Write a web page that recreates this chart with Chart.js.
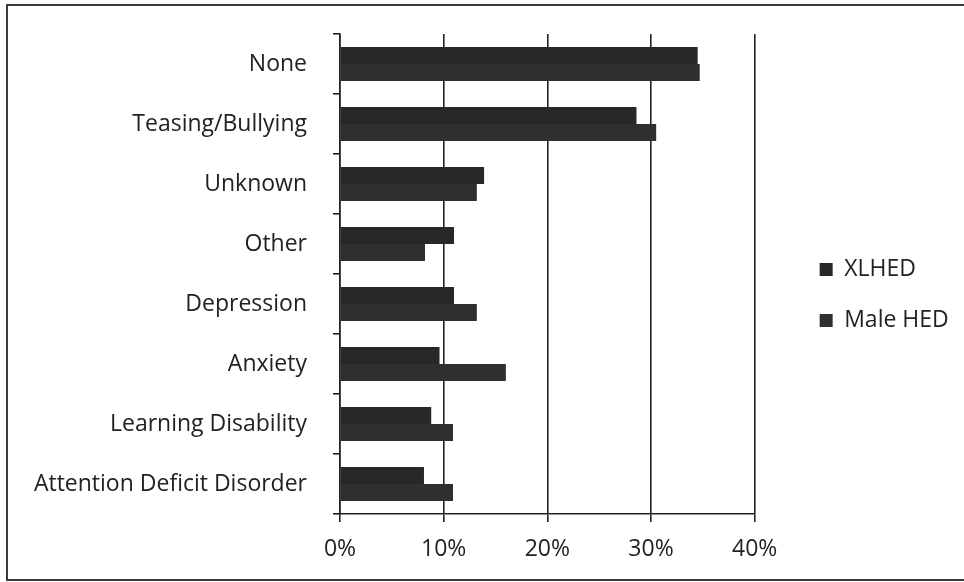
<!DOCTYPE html>
<html>
<head>
<meta charset="utf-8">
<script src="https://cdn.jsdelivr.net/npm/chart.js@4/dist/chart.umd.min.js"></script>
<style>
  html, body { margin: 0; padding: 0; background: #fff; overflow: hidden; }
  #wrap { position: relative; width: 964px; height: 582px; overflow: hidden; }
  #frame { position: absolute; left: 6px; top: 4px; width: 980px; height: 573px; border: 2px solid #3a3a3a; pointer-events: none; }
  canvas { position: absolute; left: 0; top: 0; }
</style>
</head>
<body>
<div id="wrap">
  <canvas id="chart" width="964" height="582"></canvas>
  <div id="frame"></div>
</div>
<script>
// Categorias e séries (percentual)
const categories = ['None', 'Teasing/Bullying', 'Unknown', 'Other', 'Depression', 'Anxiety', 'Learning Disability', 'Attention Deficit Disorder'];
const xlhedValues = [34.5, 28.6, 13.9, 11.0, 11.0, 9.6, 8.8, 8.1];
const maleHedValues = [34.7, 30.5, 13.2, 8.2, 13.2, 16.0, 10.9, 10.9];
const seriesNames = ['XLHED', 'Male HED'];
const xTicks = [0, 10, 20, 30, 40];

const fontFamily = '"Open Sans", sans-serif';
const ink = '#222222';

const ctx = document.getElementById('chart');

new Chart(ctx, {
    type: 'bar',
    data: {
        labels: categories,
        datasets: [{
            label: seriesNames[0],
            data: xlhedValues,
            backgroundColor: '#282828',
            borderWidth: 0
        }, {
            label: seriesNames[1],
            data: maleHedValues,
            backgroundColor: '#2f2f2f',
            borderWidth: 0
        }]
    },
    options: {
        indexAxis: 'y',
        responsive: false,
        animation: false,
        layout: {
            padding: { top: 8, left: 0, right: 14, bottom: 0 }
        },
        datasets: {
            bar: {
                categoryPercentage: 0.57,
                barPercentage: 1.0
            }
        },
        plugins: {
            tooltip: { enabled: false },
            legend: {
                position: 'right',
                align: 'center',
                labels: {
                    color: ink,
                    boxWidth: 13,
                    boxHeight: 13,
                    padding: 28,
                    font: { family: fontFamily, size: 23 }
                }
            }
        },
        scales: {
            x: {
                min: 0,
                max: 40,
                afterBuildTicks: (scale) => {
                    scale.ticks = xTicks.map(v => ({ value: v }));
                },
                afterFit: (scale) => { scale.height = 68; },
                grid: {
                    color: ink,
                    lineWidth: 1.6,
                    tickLength: 8,
                    drawTicks: true
                },
                border: { color: ink, width: 1.6 },
                ticks: {
                    color: ink,
                    padding: 14,
                    font: { family: fontFamily, size: 23 },
                    callback: (v) => v + '%'
                }
            },
            // margem acima da área do gráfico
            topGap: {
                type: 'linear',
                position: 'top',
                display: true,
                afterFit: (scale) => { scale.height = 26; },
                grid: { display: false },
                border: { display: false },
                ticks: { display: false }
            },
            y: {
                afterFit: (scale) => {
                    scale.width = 340;
                    // rótulos ficam no meio de cada faixa, sem folga extra
                    scale.paddingTop = 0;
                    scale.paddingBottom = 0;
                },
                grid: {
                    offset: true,
                    drawOnChartArea: false,
                    color: ink,
                    lineWidth: 1.6,
                    tickLength: 7
                },
                border: { color: ink, width: 1.6 },
                ticks: {
                    color: ink,
                    padding: 26,
                    font: { family: fontFamily, size: 23 }
                }
            },
            // espaço entre a área do gráfico e a legenda
            gap: {
                type: 'linear',
                position: 'right',
                display: true,
                afterFit: (scale) => { scale.width = 37; },
                grid: { display: false },
                border: { display: false },
                ticks: { display: false }
            }
        }
    }
});
</script>
</body>
</html>
